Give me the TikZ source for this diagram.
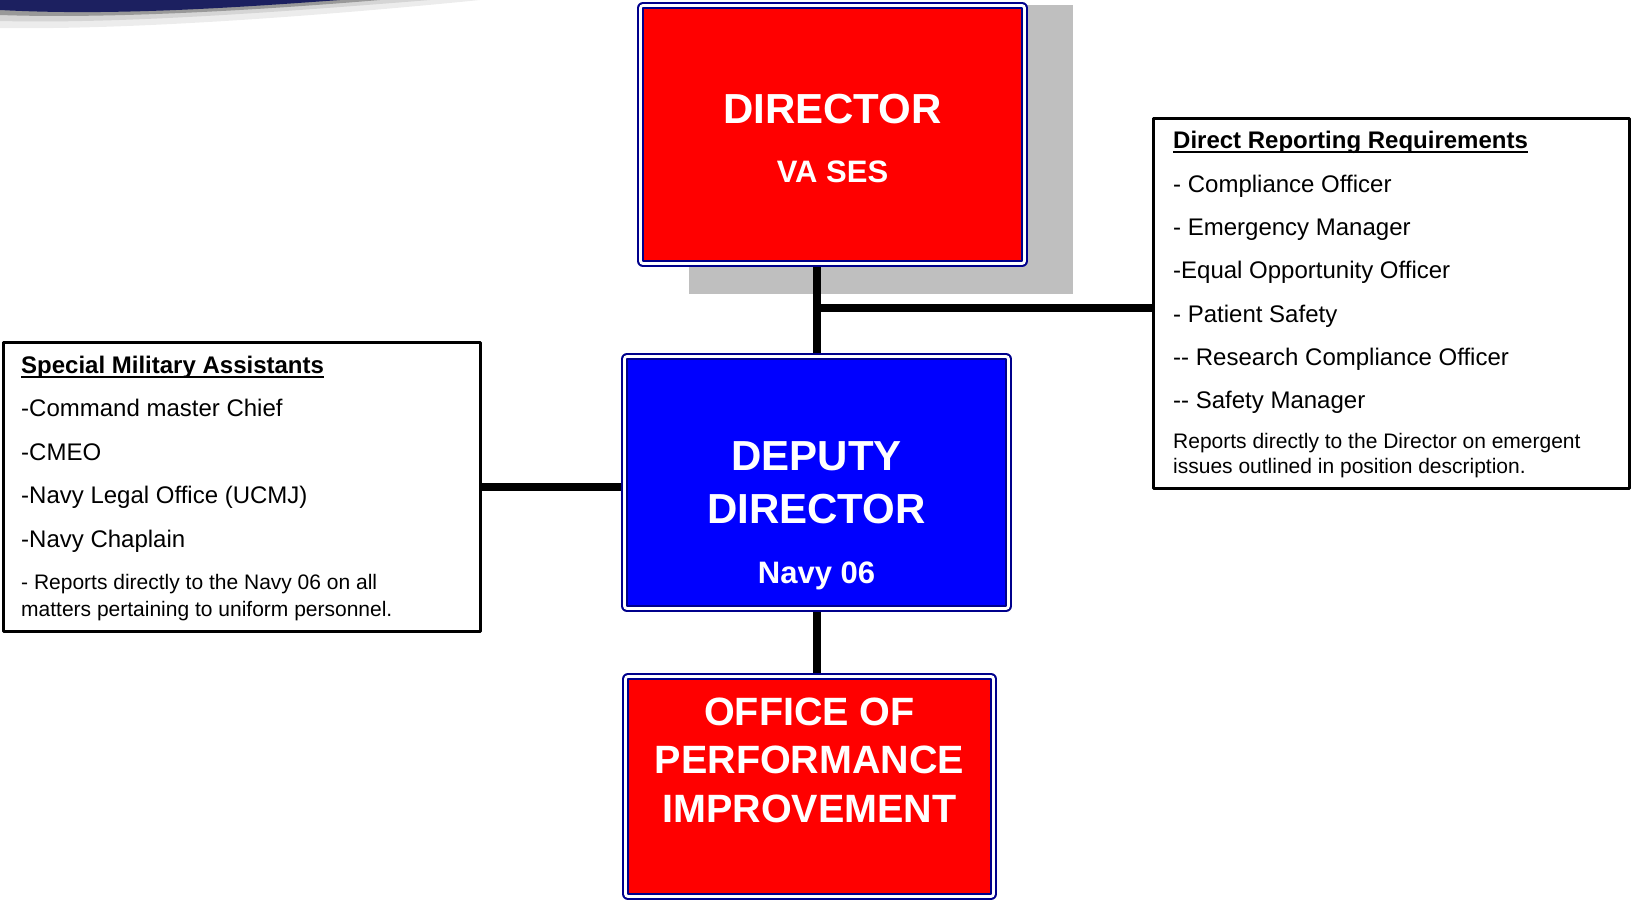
\documentclass[tikz,border=0pt]{standalone}
\usepackage{fontspec}
\setmainfont{Liberation Sans}
\definecolor{navyline}{RGB}{0,0,140}
\definecolor{swooshblue}{RGB}{28,32,96}
\definecolor{shadowgray}{RGB}{191,191,191}
\newcommand{\setfs}[1]{\fontsize{#1}{#1}\selectfont}
\newcommand{\headline}[1]{\setbox0\hbox{#1}\rlap{\rule[-4.5pt]{\wd0}{2pt}}\box0}
\begin{document}
\begin{tikzpicture}[x=1pt, y=-1pt, line join=round,
    redbox/.style={draw=navyline, line width=2.5pt, fill=red, inner sep=0pt, outer sep=0pt,
      preaction={draw=navyline, line width=12pt}, preaction={draw=white, line width=8pt}},
    bluebox/.style={redbox, fill=blue},
    notebox/.style={draw=black, line width=3pt, fill=white, inner sep=0pt, outer sep=0pt},
    link/.style={line width=8pt},
    bigtext/.style={text=white, anchor=base, inner sep=0pt},
    listtext/.style={anchor=base west, inner sep=0pt}]
      \useasboundingbox (0,0) rectangle (1633,904);

      % corner swoosh
      \fill[shadowgray!30] (0,0) -- (480,0) .. controls (320,16) and (130,30) .. (0,28) -- cycle;
      \fill[shadowgray!65] (0,0) -- (430,0) .. controls (280,12) and (120,24) .. (0,21) -- cycle;
      \fill[gray!80] (0,0) -- (380,0) .. controls (260,10) and (110,19) .. (0,15) -- cycle;
      \fill[swooshblue] (0,0) -- (340,0) .. controls (230,8) and (110,16) .. (0,10) -- cycle;

      % shadow behind the director
      \coordinate (s1) at (689,5);
      \coordinate (s2) at (1073,294);
      \fill[shadowgray] (s1) rectangle (s2);

      \node[redbox, minimum width=379pt, minimum height=253pt] (dir) at (832.5,134.5) {};
      \node[bluebox, minimum width=379pt, minimum height=247pt] (dep) at (816.5,482.5) {};
      \node[redbox, minimum width=363pt, minimum height=215pt] (opi) at (809.5,786.5) {};
      \node[notebox, minimum width=477pt, minimum height=289pt] (sma) at (242,487) {};
      \node[notebox, minimum width=476pt, minimum height=370pt] (req) at (1391.5,303.5) {};

      \coordinate (jct) at (816.5,308);
      \draw[link, shorten <=6pt, shorten >=6pt] (dep.north) -- (dep.north |- dir.south);
      \draw[link] (jct) -- (jct -| req.west);
      \draw[link, shorten >=6pt] (sma.east) -- (sma.east -| dep.west);
      \draw[link, shorten <=6pt, shorten >=6pt] (dep.south) -- (dep.south |- opi.north);

      \node[bigtext, font=\bfseries\setfs{42}] (dirname) at (832.5,124) {DIRECTOR};
      \node[bigtext, font=\bfseries\setfs{31}] (dirgrade) at (832.5,183) {VA SES};
      \node[bigtext, font=\bfseries\setfs{42}] (depname1) at (816.5,470) {DEPUTY};
      \node[bigtext, font=\bfseries\setfs{42}] (depname2) at (816.5,523) {DIRECTOR};
      \node[bigtext, font=\bfseries\setfs{31}] (depgrade) at (816.5,583) {Navy 06};
      \foreach \txt [count=\i] in {OFFICE OF, PERFORMANCE, IMPROVEMENT}
        \node[bigtext, font=\bfseries\setfs{39.5}] (opi\i) at (809.5,676.5+48.5*\i) {\txt};

      % special military assistants
      \node[listtext, font=\bfseries\setfs{24}] (smahead) at (21,373) {\headline{Special Military Assistants}};
      \foreach \txt [count=\i] in {-Command master Chief, -CMEO, -Navy Legal Office (UCMJ), -Navy Chaplain}
        \node[listtext, font=\setfs{24}] (sma\i) at (21,373+43.5*\i) {\txt};
      \node[listtext, font=\setfs{21}] (smanote1) at (21,589) {- Reports directly to the Navy 06 on all};
      \node[listtext, font=\setfs{21}] (smanote2) at (21,616) {matters pertaining to uniform personnel.};

      % direct reporting requirements
      \node[listtext, font=\bfseries\setfs{24}] (reqhead) at (1173,149) {\headline{Direct Reporting Requirements}};
      \foreach \txt [count=\i] in {- Compliance Officer, - Emergency Manager, -Equal Opportunity Officer,
          - Patient Safety, -{}- Research Compliance Officer, -{}- Safety Manager}
        \node[listtext, font=\setfs{24}] (req\i) at (1173,149+43.3*\i) {\txt};
      \node[listtext, font=\setfs{21}] (reqnote1) at (1173,448) {Reports directly to the Director on emergent};
      \node[listtext, font=\setfs{21}] (reqnote2) at (1173,473) {issues outlined in position description.};
    \end{tikzpicture}
\end{document}
